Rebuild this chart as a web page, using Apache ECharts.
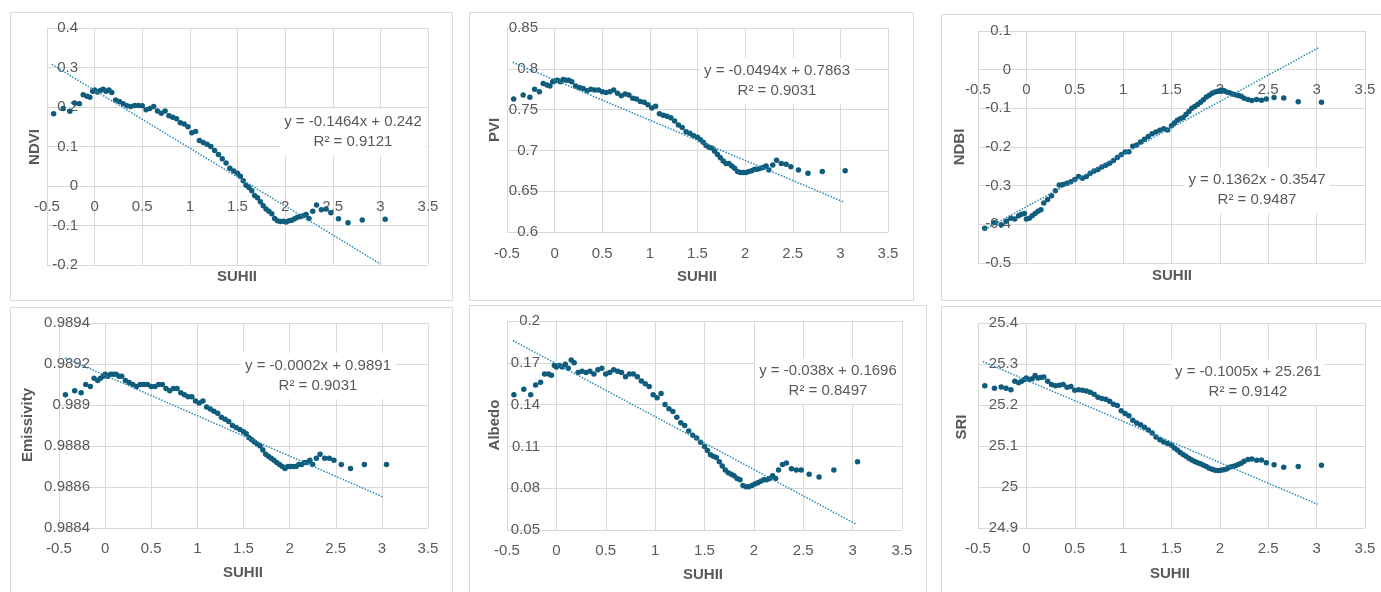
<!DOCTYPE html>
<html lang="en">
<head>
    <meta charset="UTF-8">
    <title>SUHII scatter</title>
    <style>
        html, body { margin: 0; padding: 0; background: #fff; }
        #main { width: 1381px; height: 592px; }
    </style>
</head>
<body>
<div id="main"></div>
<script src="https://cdn.jsdelivr.net/npm/echarts@6/dist/echarts.min.js"></script>
<script>
    /* SUHII (shared x for all panels) */
    var suhii = [-0.43, -0.33, -0.26, -0.21, -0.16, -0.12, -0.08, -0.05, -0.02, 0.00, 0.03, 0.06, 0.09, 0.12, 0.15, 0.18,
        0.22, 0.26, 0.30, 0.34, 0.38, 0.42, 0.46, 0.50, 0.54, 0.58, 0.62, 0.66, 0.70, 0.74, 0.78, 0.82, 0.86, 0.90,
        0.94, 0.98, 1.02, 1.06, 1.10, 1.14, 1.18, 1.22, 1.26, 1.30, 1.34, 1.38, 1.42, 1.46, 1.50,
        1.53, 1.56, 1.59, 1.62, 1.65, 1.68, 1.71, 1.74, 1.77, 1.80, 1.83, 1.86, 1.89, 1.92, 1.95, 1.98,
        2.01, 2.04, 2.07, 2.10, 2.13, 2.16, 2.19, 2.22, 2.25, 2.29, 2.33, 2.38, 2.43, 2.48, 2.56, 2.66, 2.81, 3.05];

    var ndvi = [0.183, 0.196, 0.189, 0.210, 0.208, 0.231, 0.227, 0.225, 0.240, 0.243, 0.238, 0.242, 0.245, 0.240, 0.243, 0.237,
        0.218, 0.214, 0.208, 0.203, 0.201, 0.204, 0.204, 0.203, 0.193, 0.196, 0.201, 0.190, 0.184, 0.190, 0.178, 0.174, 0.170, 0.160,
        0.157, 0.150, 0.135, 0.138, 0.115, 0.110, 0.106, 0.100, 0.090, 0.080, 0.069, 0.058, 0.045, 0.038, 0.032,
        0.025, 0.013, 0.002, -0.004, -0.012, -0.024, -0.030, -0.040, -0.050, -0.058, -0.064, -0.070, -0.082, -0.088, -0.090, -0.089,
        -0.091, -0.088, -0.087, -0.083, -0.079, -0.077, -0.075, -0.072, -0.082, -0.064, -0.048, -0.060, -0.058, -0.068, -0.083, -0.093, -0.086, -0.084];

    var pvi = [0.763, 0.768, 0.765, 0.775, 0.772, 0.782, 0.780, 0.779, 0.784, 0.785, 0.786, 0.784, 0.787, 0.786, 0.786, 0.784,
        0.779, 0.777, 0.776, 0.773, 0.775, 0.774, 0.774, 0.772, 0.771, 0.772, 0.774, 0.770, 0.767, 0.769, 0.768, 0.764, 0.763, 0.760,
        0.759, 0.756, 0.752, 0.754, 0.745, 0.743, 0.742, 0.740, 0.736, 0.731, 0.728, 0.723, 0.721, 0.718, 0.716,
        0.713, 0.710, 0.706, 0.704, 0.703, 0.699, 0.695, 0.691, 0.687, 0.684, 0.684, 0.681, 0.678, 0.674, 0.673, 0.673,
        0.673, 0.674, 0.675, 0.677, 0.677, 0.678, 0.679, 0.681, 0.676, 0.682, 0.688, 0.684, 0.683, 0.680, 0.676, 0.672, 0.674, 0.675];

    var ndbi = [-0.410, -0.396, -0.401, -0.392, -0.384, -0.386, -0.378, -0.374, -0.372, -0.386, -0.384, -0.378, -0.372, -0.366, -0.362, -0.345,
        -0.336, -0.326, -0.313, -0.298, -0.297, -0.294, -0.290, -0.284, -0.276, -0.281, -0.276, -0.268, -0.262, -0.258, -0.252, -0.247, -0.242, -0.235,
        -0.227, -0.220, -0.213, -0.212, -0.198, -0.195, -0.187, -0.180, -0.173, -0.166, -0.161, -0.157, -0.153, -0.156, -0.145,
        -0.138, -0.131, -0.127, -0.124, -0.116, -0.108, -0.100, -0.095, -0.090, -0.084, -0.078, -0.071, -0.066, -0.061, -0.058, -0.056,
        -0.053, -0.054, -0.058, -0.060, -0.063, -0.065, -0.067, -0.069, -0.074, -0.077, -0.080, -0.077, -0.079, -0.076, -0.072, -0.073, -0.083, -0.084];

    var emissivity = [0.98905, 0.98907, 0.98906, 0.98910, 0.98909, 0.98913, 0.98912, 0.98913, 0.98914, 0.98915, 0.98914, 0.98915, 0.98915, 0.98915, 0.98914, 0.98914,
        0.98912, 0.98911, 0.98910, 0.98909, 0.98910, 0.98910, 0.98910, 0.98909, 0.98909, 0.98910, 0.98910, 0.98908, 0.98907, 0.98908, 0.98908, 0.98906, 0.98905, 0.98904,
        0.98904, 0.98902, 0.98901, 0.98902, 0.98899, 0.98898, 0.98897, 0.98896, 0.98894, 0.98893, 0.98892, 0.98890, 0.98889, 0.98888, 0.98887,
        0.98886, 0.98884, 0.98883, 0.98882, 0.98881, 0.98880, 0.98878, 0.98876, 0.98875, 0.98874, 0.98873, 0.98872, 0.98871, 0.98870, 0.98869, 0.98870,
        0.98870, 0.98870, 0.98870, 0.98871, 0.98871, 0.98872, 0.98872, 0.98873, 0.98871, 0.98874, 0.98876, 0.98874, 0.98874, 0.98873, 0.98871, 0.98869, 0.98871, 0.98871];

    var albedo = [0.147, 0.151, 0.147, 0.154, 0.156, 0.162, 0.162, 0.161, 0.168, 0.167, 0.168, 0.167, 0.169, 0.166, 0.172, 0.170,
        0.163, 0.164, 0.163, 0.164, 0.162, 0.165, 0.166, 0.162, 0.163, 0.165, 0.164, 0.163, 0.160, 0.162, 0.162, 0.160, 0.157, 0.155,
        0.153, 0.147, 0.145, 0.148, 0.140, 0.137, 0.135, 0.131, 0.127, 0.125, 0.121, 0.118, 0.116, 0.113, 0.110,
        0.107, 0.104, 0.103, 0.102, 0.099, 0.096, 0.093, 0.091, 0.090, 0.089, 0.087, 0.086, 0.082, 0.081, 0.081, 0.082,
        0.083, 0.084, 0.085, 0.086, 0.086, 0.087, 0.089, 0.087, 0.093, 0.097, 0.098, 0.094, 0.093, 0.093, 0.090, 0.088, 0.093, 0.099];

    var sri = [25.247, 25.241, 25.244, 25.241, 25.237, 25.258, 25.254, 25.258, 25.262, 25.266, 25.262, 25.264, 25.272, 25.266, 25.267, 25.268,
        25.258, 25.250, 25.247, 25.248, 25.250, 25.243, 25.245, 25.236, 25.237, 25.236, 25.234, 25.231, 25.226, 25.219, 25.216, 25.214, 25.209, 25.202,
        25.199, 25.186, 25.179, 25.174, 25.163, 25.156, 25.152, 25.146, 25.139, 25.132, 25.122, 25.115, 25.110, 25.106, 25.102,
        25.095, 25.090, 25.084, 25.079, 25.075, 25.070, 25.066, 25.062, 25.059, 25.057, 25.053, 25.050, 25.046, 25.043, 25.041, 25.040,
        25.041, 25.042, 25.044, 25.048, 25.050, 25.052, 25.055, 25.058, 25.063, 25.067, 25.068, 25.065, 25.066, 25.059, 25.054, 25.048, 25.050, 25.053];

    /* 趋势线端点 (linear trendline) */
    var trendNdvi = [[-0.45, 0.308], [3.00, -0.197]];
    var trendPvi = [[-0.44, 0.808], [3.03, 0.637]];
    var trendNdbi = [[-0.43, -0.413], [3.03, 0.058]];
    var trendEmis = [[-0.435, 0.98923], [3.02, 0.98855]];
    var trendAlbedo = [[-0.44, 0.186], [3.04, 0.054]];
    var trendSri = [[-0.45, 25.306], [3.01, 24.958]];

    /* 公式 */
    var eqNdvi = ['y = -0.1464x + 0.242', 'R² = 0.9121'];
    var eqPvi = ['y = -0.0494x + 0.7863', 'R² = 0.9031'];
    var eqNdbi = ['y = 0.1362x - 0.3547', 'R² = 0.9487'];
    var eqEmis = ['y = -0.0002x + 0.9891', 'R² = 0.9031'];
    var eqAlbedo = ['y = -0.038x + 0.1696', 'R² = 0.8497'];
    var eqSri = ['y = -0.1005x + 25.261', 'R² = 0.9142'];

    /* 坐标轴范围 [min, max, interval] */
    var xRange = [-0.5, 3.5, 0.5];
    var yNdvi = [-0.2, 0.4, 0.1];
    var yPvi = [0.6, 0.85, 0.05];
    var yNdbi = [-0.5, 0.1, 0.1];
    var yEmis = [0.9884, 0.9894, 0.0002];
    var yAlbedo = [0.05, 0.2, 0.03];
    var ySri = [24.9, 25.4, 0.1];

    var FONT = '"Liberation Sans", Arial, sans-serif';
    var GREY = '#595959';
    var GRID = '#d9d9d9';

    var panels = [
        {name: 'NDVI', y: ndvi, trend: trendNdvi, eq: eqNdvi, yr: yNdvi,
            grid: {left: 47, top: 28, width: 381, height: 237}, lm: -31, xm: 13,
            box: [10, 12, 442, 288], yt: [35, 147], xt: [237, 277], et: [353, 132]},
        {name: 'PVI', y: pvi, trend: trendPvi, eq: eqPvi, yr: yPvi,
            grid: {left: 507, top: 28, width: 381, height: 204}, lm: -31, xm: 14,
            box: [469, 12, 444, 288], yt: [495, 130], xt: [697, 277], et: [777, 81]},
        {name: 'NDBI', y: ndbi, trend: trendNdbi, eq: eqNdbi, yr: yNdbi,
            grid: {left: 978, top: 31, width: 387, height: 232}, lm: -33, xm: 13,
            box: [941, 14, 445, 286], yt: [960, 147], xt: [1172, 276], et: [1257, 190]},
        {name: 'Emissivity', y: emissivity, trend: trendEmis, eq: eqEmis, yr: yEmis,
            grid: {left: 59, top: 323, width: 369, height: 205}, lm: -31, xm: 13,
            box: [10, 307, 442, 290], yt: [28, 425], xt: [243, 573], et: [318, 376]},
        {name: 'Albedo', y: albedo, trend: trendAlbedo, eq: eqAlbedo, yr: yAlbedo,
            grid: {left: 507, top: 321, width: 395, height: 209}, lm: -33, xm: 13,
            box: [469, 305, 457, 290], yt: [495, 425], xt: [703, 575], et: [828, 381]},
        {name: 'SRI', y: sri, trend: trendSri, eq: eqSri, yr: ySri,
            grid: {left: 978, top: 323, width: 387, height: 205}, lm: -40, xm: 13,
            box: [941, 306, 445, 290], yt: [962, 427], xt: [1170, 574], et: [1248, 382]}
    ];

    var chart = echarts.init(document.getElementById('main'));
    var grids = [], xAxes = [], yAxes = [], series = [], graphics = [];

    panels.forEach(function (p, i) {
        grids.push(p.grid);
        // x 轴在 y=0 处穿过（若 0 在范围内）
        var zeroOffset = 0;
        if (p.yr[0] < 0 && p.yr[1] > 0) {
            zeroOffset = -p.grid.height * (0 - p.yr[0]) / (p.yr[1] - p.yr[0]);
        }
        xAxes.push({
            type: 'value', gridIndex: i, position: 'bottom', offset: zeroOffset,
            min: xRange[0], max: xRange[1], interval: xRange[2],
            axisLine: {show: false, onZero: false},
            axisTick: {show: false},
            axisLabel: {color: GREY, fontSize: 15, fontFamily: FONT, margin: p.xm},
            splitLine: {show: true, lineStyle: {color: GRID, width: 1}}
        });
        yAxes.push({
            type: 'value', gridIndex: i,
            min: p.yr[0], max: p.yr[1], interval: p.yr[2],
            axisLine: {show: false, onZero: false},
            axisTick: {show: false},
            axisLabel: {color: GREY, fontSize: 15, fontFamily: FONT, margin: p.lm},
            splitLine: {show: true, lineStyle: {color: GRID, width: 1}}
        });
        series.push({
            type: 'scatter', xAxisIndex: i, yAxisIndex: i,
            symbolSize: 5.5,
            itemStyle: {color: '#0f5c7c', opacity: 1},
            data: suhii.map(function (x, k) { return [x, p.y[k]]; }),
            z: 3
        });
        series.push({
            type: 'line', xAxisIndex: i, yAxisIndex: i,
            showSymbol: false, symbol: 'none',
            lineStyle: {color: '#2b8ab5', width: 1.5, type: 'dotted'},
            data: p.trend,
            z: 4
        });
        // panel frame
        graphics.push({
            type: 'rect', z: 0,
            shape: {x: p.box[0] + 0.5, y: p.box[1] + 0.5, width: p.box[2], height: p.box[3]},
            style: {fill: 'none', stroke: GRID, lineWidth: 1}
        });
        // y title
        graphics.push({
            type: 'text', x: p.yt[0], y: p.yt[1], rotation: Math.PI / 2, z: 10,
            style: {text: p.name, fill: GREY, font: 'bold 15px ' + FONT, align: 'center', verticalAlign: 'middle'}
        });
        // x title
        graphics.push({
            type: 'text', x: p.xt[0], y: p.xt[1], z: 10,
            style: {text: 'SUHII', fill: GREY, font: 'bold 15px ' + FONT, align: 'center', verticalAlign: 'middle'}
        });
        // equation
        graphics.push({
            type: 'text', x: p.et[0], y: p.et[1], z: 20,
            style: {
                text: p.eq.join('\n'), fill: GREY, font: '15px ' + FONT,
                align: 'center', verticalAlign: 'middle', lineHeight: 20,
                backgroundColor: '#fff', padding: [3, 4]
            }
        });
    });

    chart.setOption({
        animation: false,
        backgroundColor: '#fff',
        grid: grids,
        xAxis: xAxes,
        yAxis: yAxes,
        series: series,
        graphic: {elements: graphics}
    });
</script>
</body>
</html>
